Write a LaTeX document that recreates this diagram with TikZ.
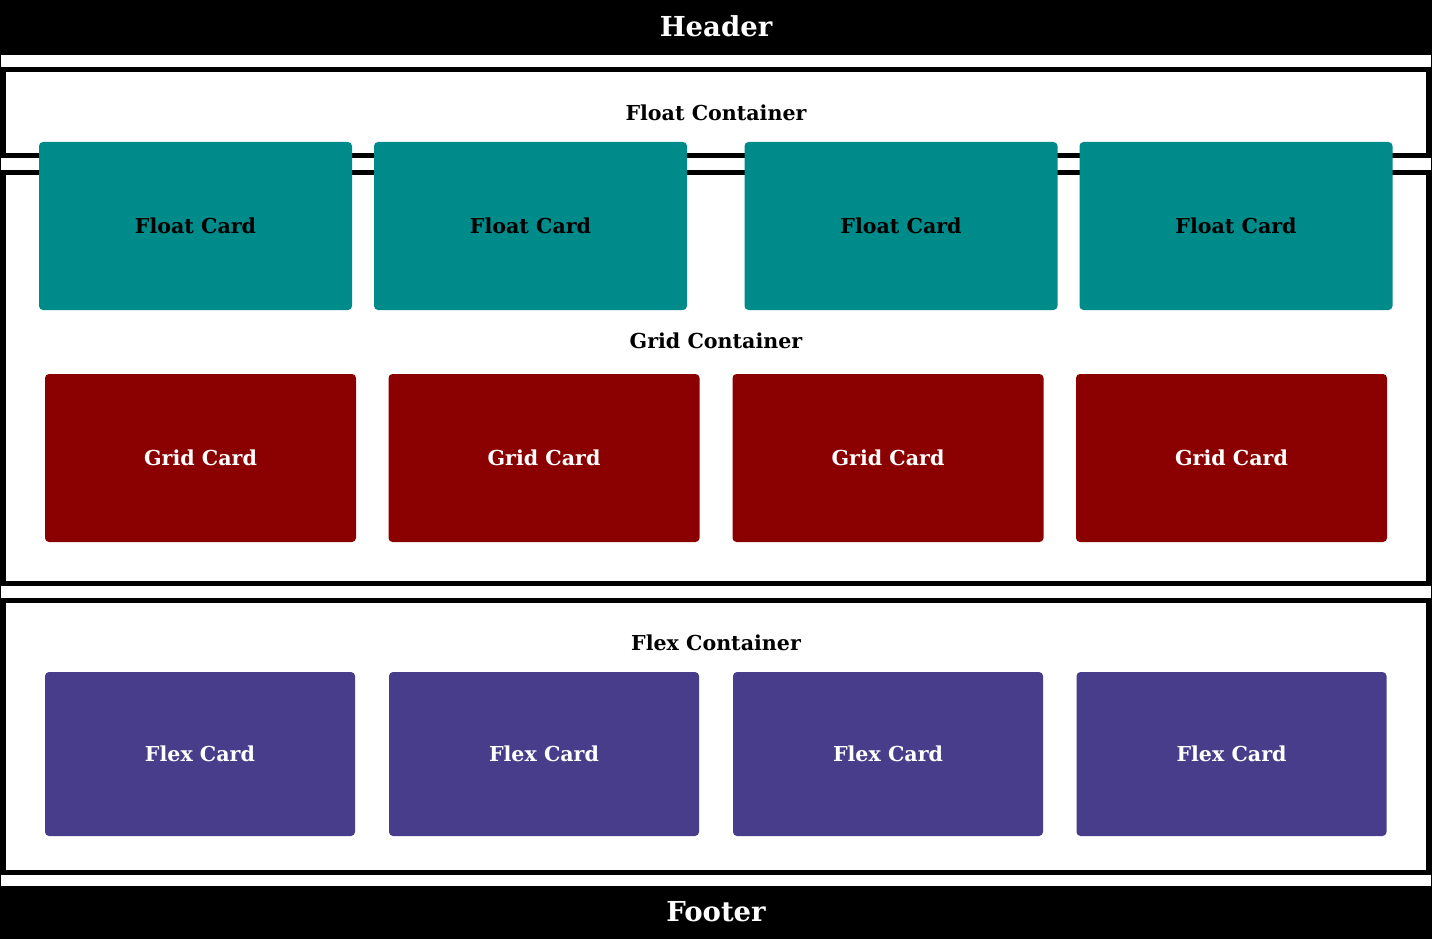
\documentclass[tikz,border=0pt]{standalone}
\usepackage{fontspec}
\setmainfont{DejaVu Serif}
\definecolor{floatteal}{HTML}{008B8B}
\definecolor{gridred}{HTML}{8B0000}
\definecolor{flexblue}{HTML}{483D8B}
\newcommand{\cardfont}{\fontsize{20.6}{24}\selectfont\bfseries}
\newcommand{\barfont}{\fontsize{27.5}{32}\selectfont\bfseries}
\tikzset{
  card/.style={rectangle, rounded corners=4pt, inner sep=0pt, font=\cardfont},
  floatcard/.style={card, fill=floatteal, text=black, minimum width=313pt, minimum height=168pt},
  gridcard/.style={card, fill=gridred, text=white, minimum width=311pt, minimum height=168pt},
  flexcard/.style={card, fill=flexblue, text=white, minimum width=310pt, minimum height=164pt, text depth=-3pt},
  boxline/.style={draw=black, line width=5pt},
  boxtitle/.style={font=\cardfont, text=black, inner sep=0pt},
}

\begin{document}
\begin{tikzpicture}[x=1pt, y=-1pt]
		%%%%% PAGE %%%%%
		\useasboundingbox (0,0) rectangle (1432,939);
		\fill[white] (0,0) rectangle (1432,939);
		
		\fill[black] (0,0) rectangle (1432,55);
		\node[font=\barfont, text=white] (header) at (716,26) {Header};
		\fill[black] (0,886) rectangle (1432,939);
		\node[font=\barfont, text=white] (footer) at (716,912) {Footer};
		
		%%%%% CONTAINERS %%%%%
		\draw[boxline] (3.5,69.5) rectangle (1428.5,155.5);
		\node[boxtitle] (floattitle) at (716,113) {Float Container};
		\draw[boxline] (3.5,172.5) rectangle (1428.5,583.5);
		\node[boxtitle] (gridtitle) at (716,341) {Grid Container};
		\draw[boxline] (3.5,600) rectangle (1428.5,872.5);
		\node[boxtitle] (flextitle) at (716,643) {Flex Container};
		
		%%%%% CARDS %%%%%
		\node[floatcard] (float1) at (195.5,226) {Float Card};
		\node[floatcard] (float2) at (530.5,226) {Float Card};
		\node[floatcard] (float3) at (901,226) {Float Card};
		\node[floatcard] (float4) at (1236,226) {Float Card};
		
		\node[gridcard] (grid1) at (200.5,458) {Grid Card};
		\node[gridcard] (grid2) at (544,458) {Grid Card};
		\node[gridcard] (grid3) at (888,458) {Grid Card};
		\node[gridcard] (grid4) at (1231.5,458) {Grid Card};
		
		\node[flexcard] (flex1) at (200,754) {Flex Card};
		\node[flexcard] (flex2) at (544,754) {Flex Card};
		\node[flexcard] (flex3) at (888,754) {Flex Card};
		\node[flexcard] (flex4) at (1231.5,754) {Flex Card};
		
		\draw[black, line width=1pt] (0.5,0.5) rectangle (1431.5,938.5);
		%%%%% END %%%%%
	\end{tikzpicture}
\end{document}
